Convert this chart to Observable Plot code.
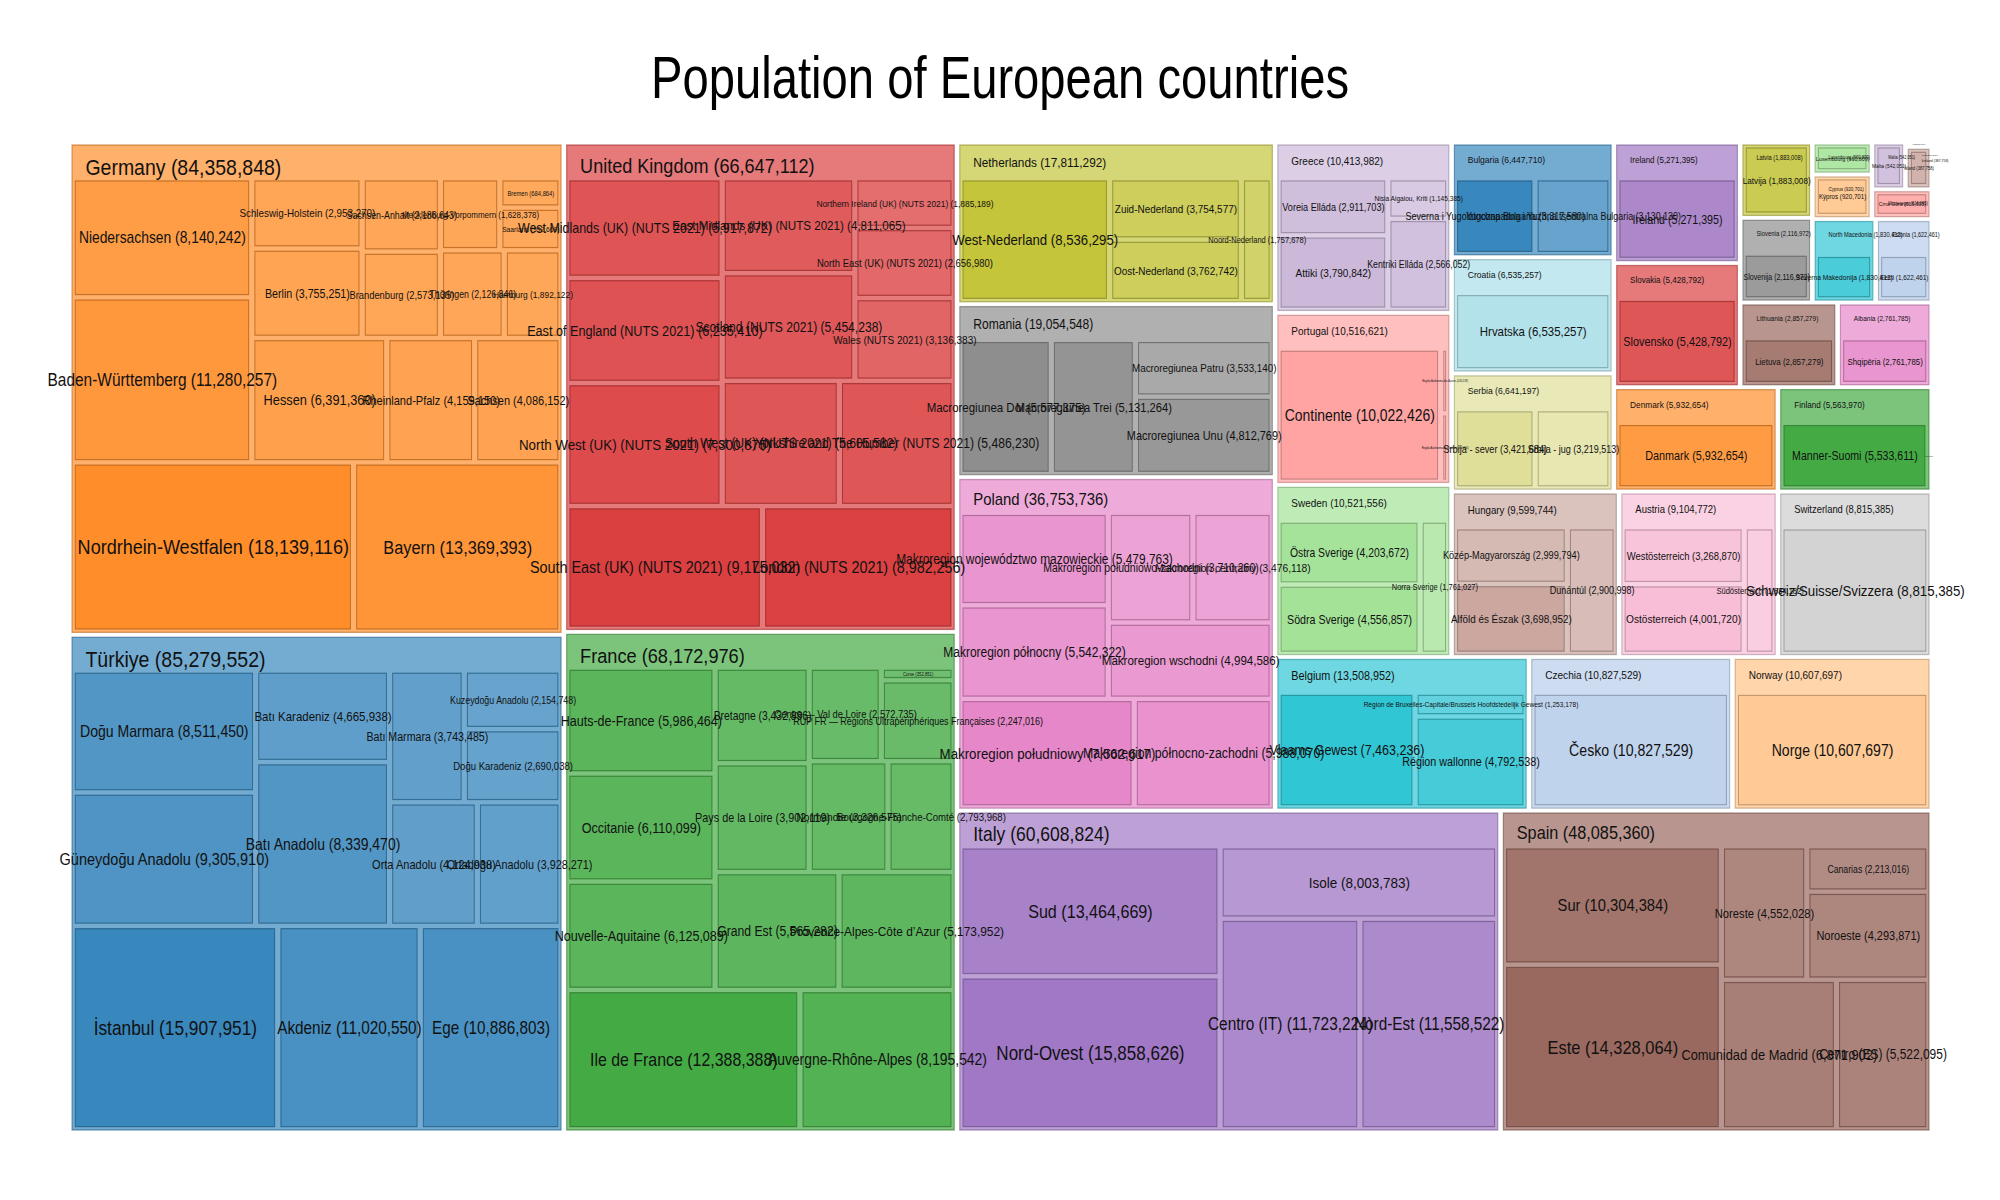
<!DOCTYPE html>
<html>
<head>
<meta charset="utf-8">
<script src="https://cdn.jsdelivr.net/npm/d3@7"></script>
<script src="https://cdn.jsdelivr.net/npm/@observablehq/plot@0.6"></script>
<style>
  html, body { margin: 0; padding: 0; background: #ffffff; }
  body { width: 2000px; height: 1200px; overflow: hidden; font-family: "Liberation Sans", Arial, Helvetica, sans-serif; }
  #title { position: relative; width: 2000px; height: 130px; }
  #title span { position: absolute; left: 1000px; top: 49px; font-size: 59px; line-height: 59px; white-space: nowrap; color: #000;
    transform: translateX(-50%) scaleX(0.8); }
  #chart { width: 2000px; height: 1070px; }
</style>
</head>
<body>
<div id="title"><span>Population of European countries</span></div>
<div id="chart"></div>
<script>
// ---------------- DATA (regions and population) ----------------
const germany = [["Nordrhein-Westfalen",18139116],["Bayern",13369393],["Baden-Württemberg",11280257],["Niedersachsen",8140242],["Hessen",6391360],["Rheinland-Pfalz",4159150],["Sachsen",4086152],["Berlin",3755251],["Schleswig-Holstein",2953270],["Brandenburg",2573135],["Sachsen-Anhalt",2186643],["Thüringen",2126846],["Hamburg",1892122],["Mecklenburg-Vorpommern",1628378],["Saarland",992669],["Bremen",684864]];
const turkiye = [["İstanbul",15907951],["Akdeniz",11020550],["Ege",10886803],["Güneydoğu Anadolu",9305910],["Doğu Marmara",8511450],["Batı Anadolu",8339470],["Batı Karadeniz",4665938],["Orta Anadolu",4124938],["Ortadoğu Anadolu",3928271],["Batı Marmara",3743485],["Doğu Karadeniz",2690038],["Kuzeydoğu Anadolu",2154748]];
const unitedKingdom = [["South East (UK) (NUTS 2021)",9175032],["London (NUTS 2021)",8982256],["North West (UK) (NUTS 2021)",7300875],["East of England (NUTS 2021)",6235410],["West Midlands (UK) (NUTS 2021)",5917872],["South West (UK) (NUTS 2021)",5605582],["Yorkshire and The Humber (NUTS 2021)",5486230],["Scotland (NUTS 2021)",5454238],["East Midlands (UK) (NUTS 2021)",4811065],["Wales (NUTS 2021)",3136383],["North East (UK) (NUTS 2021)",2656980],["Northern Ireland (UK) (NUTS 2021)",1885189]];
const france = [["Ile de France",12388388],["Auvergne-Rhône-Alpes",8195542],["Nouvelle-Aquitaine",6125089],["Occitanie",6110099],["Hauts-de-France",5986464],["Grand Est",5565282],["Provence-Alpes-Côte d’Azur",5173952],["Pays de la Loire",3902119],["Bretagne",3432896],["Normandie",3326575],["Bourgogne-Franche-Comté",2793968],["Centre — Val de Loire",2572735],["RUP FR — Régions Ultrapériphériques Françaises",2247016],["Corse",352851]];
const italy = [["Nord-Ovest",15858626],["Sud",13464669],["Centro (IT)",11723224],["Nord-Est",11558522],["Isole",8003783]];
const spain = [["Este",14328064],["Sur",10304384],["Comunidad de Madrid",6871902],["Centro (ES)",5522095],["Noreste",4552028],["Noroeste",4293871],["Canarias",2213016]];
const poland = [["Makroregion południowy",7562617],["Makroregion północno-zachodni",5988070],["Makroregion północny",5542322],["Makroregion województwo mazowieckie",5479763],["Makroregion wschodni",4994586],["Makroregion południowo-zachodni",3710260],["Makroregion centralny",3476118]];
const romania = [["Macroregiunea Doi",5577375],["Macroregiunea Trei",5131264],["Macroregiunea Unu",4812769],["Macroregiunea Patru",3533140]];
const netherlands = [["West-Nederland",8536295],["Oost-Nederland",3762742],["Zuid-Nederland",3754577],["Noord-Nederland",1757678]];
const belgium = [["Vlaams Gewest",7463236],["Région wallonne",4792538],["Région de Bruxelles-Capitale/Brussels Hoofdstedelijk Gewest",1253178]];
const czechia = [["Česko",10827529]];
const norway = [["Norge",10607697]];
const sweden = [["Södra Sverige",4556857],["Östra Sverige",4203672],["Norra Sverige",1761027]];
const portugal = [["Continente",10022426],["Região Autónoma da Madeira",254056],["Região Autónoma dos Açores",240139]];
const greece = [["Attiki",3790842],["Voreia Elláda",2911703],["Kentriki Elláda",2566052],["Nisia Aigaiou, Kriti",1145385]];
const hungary = [["Alföld és Észak",3698952],["Közép-Magyarország",2999794],["Dunántúl",2900998]];
const austria = [["Ostösterreich",4001720],["Westösterreich",3268870],["Südösterreich",1834182]];
const switzerland = [["Schweiz/Suisse/Svizzera",8815385]];
const serbia = [["Srbija - sever",3421684],["Srbija - jug",3219513]];
const croatia = [["Hrvatska",6535257]];
const bulgaria = [["Severna i Yugoiztochna Bulgaria",3317580],["Yugozapadna i Yuzhna tsentralna Bulgaria",3130130]];
const denmark = [["Danmark",5932654]];
const finland = [["Manner-Suomi",5533611],["Åland",30359]];
const slovakia = [["Slovensko",5428792]];
const ireland = [["Ireland",5271395]];
const lithuania = [["Lietuva",2857279]];
const albania = [["Shqipëria",2761785]];
const slovenia = [["Slovenija",2116972]];
const latvia = [["Latvija",1883008]];
const northMacedonia = [["Severna Makedonija",1830412]];
const estonia = [["Eesti",1622461]];
const cyprus = [["Kýpros",920701]];
const luxembourg = [["Luxembourg",660809]];
const montenegro = [["Crna Gora",616695]];
const malta = [["Malta",542051]];
const iceland = [["Ísland",387758]];
const liechtenstein = [["Liechtenstein",39584]];

const countries = ["Germany","Türkiye","United Kingdom","France","Italy","Spain","Poland","Romania","Netherlands","Belgium","Czechia","Norway","Sweden","Portugal","Greece","Hungary","Austria","Switzerland","Serbia","Croatia","Bulgaria","Denmark","Finland","Slovakia","Ireland","Lithuania","Albania","Slovenia","Latvia","North Macedonia","Estonia","Cyprus","Luxembourg","Montenegro","Malta","Iceland","Liechtenstein"];
const regionsByCountry = [germany,turkiye,unitedKingdom,france,italy,spain,poland,romania,netherlands,belgium,czechia,norway,sweden,portugal,greece,hungary,austria,switzerland,serbia,croatia,bulgaria,denmark,finland,slovakia,ireland,lithuania,albania,slovenia,latvia,northMacedonia,estonia,cyprus,luxembourg,montenegro,malta,iceland,liechtenstein];

// ---------------- LAYOUT ----------------
const palette = ["#1f77b4","#ff7f0e","#2ca02c","#d62728","#9467bd","#8c564b","#e377c2","#7f7f7f","#bcbd22","#17becf",
                 "#aec7e8","#ffbb78","#98df8a","#ff9896","#c5b0d5","#c49c94","#f7b6d2","#c7c7c7","#dbdb8d","#9edae5"];
const fmt = d3.format(",");
const K = 0.87;                 // horizontal text condensing of the picture
const PW = 2000 / K, PH = 1070; // plot coordinate size (svg squeezed horizontally to 2000px)
const TOP = 15, BOTTOM = 1000, LEFT = 72, RIGHT = 1929;
const W = 1664, H = 1000;       // tiling space
const SY = (BOTTOM - TOP) / H, SX = (RIGHT - LEFT) / W;

const root = d3.hierarchy({name: "Europe", children: countries.map((name, i) => ({
    name, children: regionsByCountry[i].map(([n, v]) => ({name: n, value: v}))
  }))})
  .sum(d => d.value || 0)
  .sort((a, b) => b.value - a.value);

d3.treemap()
  .size([W, H])
  .tile(d3.treemapSquarify.ratio(1))
  .paddingInner(d => d.depth === 0 ? 5 : 5.6)
  .paddingLeft(d => d.depth === 1 ? 2.9 : 0)
  .paddingRight(d => d.depth === 1 ? 2.9 : 0)
  .paddingTop(d => d.depth === 1 ? 3.4 : 0)
  .paddingBottom(d => d.depth === 1 ? ((d.y1 - d.y0) > 75 ? 36.5 : 3) : 0)
  (root);

const countryFont = v => 5.39 * Math.pow(v / 1e6, 0.321);
const regionFont = d => {
  const area = Math.max(1, (d.x1 - d.x0) * SX * (d.y1 - d.y0) * SY);
  return Math.max(1.5, 20.66 * Math.pow(area / 44400, 0.32));
};

const countryNodes = root.children;
countryNodes.forEach((c, i) => {
  c.base = palette[i % palette.length];
  c.fillColor = d3.interpolateRgb("#ffffff", c.base)(0.62);
  c.strokeColor = d3.color(c.base).darker(1).formatHex();
  const vmax = d3.max(c.children, r => r.value), vmin = d3.min(c.children, r => r.value);
  c.children.forEach(r => {
    const t = vmax > vmin ? (r.value - vmin) / (vmax - vmin) : 0.5;
    r.fillColor = d3.interpolateRgb(c.fillColor, c.base)(0.15 + 0.55 * t);
    r.strokeColor = d3.color(c.base).darker(1.3).formatHex();
  });
});
const regionNodes = root.leaves();

const svg = Plot.plot({
  width: PW,
  height: PH,
  margin: 0,
  style: {fontFamily: "'Liberation Sans', Arial, Helvetica, sans-serif", background: "#ffffff", overflow: "visible"},
  x: {domain: [0, W], range: [LEFT / K, RIGHT / K], axis: null},
  y: {domain: [0, H], range: [BOTTOM, TOP], axis: null},
  color: {type: "identity"},
  marks: [
    Plot.rect(countryNodes, {x1: d => d.x0, x2: d => d.x1, y1: d => d.y0, y2: d => d.y1,
      fill: d => d.fillColor, stroke: d => d.strokeColor, strokeOpacity: 0.55, strokeWidth: 1.3}),
    Plot.rect(regionNodes, {x1: d => d.x0, x2: d => d.x1, y1: d => d.y0, y2: d => d.y1,
      fill: d => d.fillColor, stroke: d => d.strokeColor, strokeOpacity: 0.6, strokeWidth: 1.2}),
    Plot.text(regionNodes, {x: d => (d.x0 + d.x1) / 2, y: d => (d.y0 + d.y1) / 2,
      text: d => `${d.data.name} (${fmt(d.value)})`, fontSize: regionFont,
      textAnchor: "middle", lineAnchor: "middle", fill: "#111111"}),
    Plot.text(countryNodes, {x: d => d.x0, y: d => d.y1 - (9 + 0.195 * countryFont(d.value)) / SY,
      text: d => `${d.data.name} (${fmt(d.value)})`, fontSize: d => countryFont(d.value),
      textAnchor: "start", lineAnchor: "top", dx: 13 / K, fill: "#111111"})
  ]
});

svg.setAttribute("viewBox", `0 0 ${PW} ${PH}`);
svg.setAttribute("preserveAspectRatio", "none");
svg.setAttribute("width", 2000);
svg.setAttribute("height", PH);
svg.style.width = "2000px";
svg.style.height = PH + "px";
svg.style.maxWidth = "none";
document.getElementById("chart").append(svg);
</script>
</body>
</html>
